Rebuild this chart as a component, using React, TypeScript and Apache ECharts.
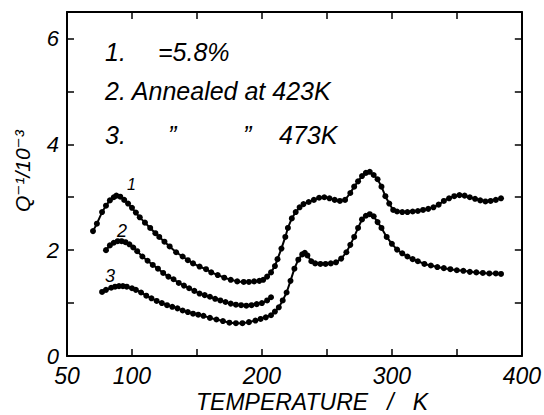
import React, { useEffect, useRef } from "react";
import * as echarts from "echarts";

// Curve 1: ε = 5.8 %
const temp1 = [70, 73, 77, 80, 83, 86, 88, 91, 94, 97, 100, 103, 106, 110, 114, 118, 121, 125, 129, 134, 139, 143, 147, 152, 157, 161, 166, 171, 176, 181, 186, 190, 194, 198, 201, 204, 207, 210, 212, 215, 218, 220, 223, 226, 229, 232, 236, 240, 244, 248, 252, 256, 260, 264, 268, 271, 274, 277, 280, 283, 286, 289, 292, 295, 298, 301, 304, 308, 312, 316, 320, 324, 328, 332, 336, 340, 344, 348, 352, 356, 360, 364, 368, 372, 376, 380, 384];
const q1 = [2.36, 2.5, 2.72, 2.84, 2.94, 3.0, 3.03, 3.01, 2.95, 2.88, 2.8, 2.71, 2.62, 2.52, 2.42, 2.32, 2.25, 2.16, 2.07, 1.96, 1.88, 1.81, 1.75, 1.69, 1.64, 1.58, 1.53, 1.48, 1.44, 1.41, 1.4, 1.4, 1.41, 1.42, 1.44, 1.5, 1.58, 1.7, 1.83, 2.03, 2.25, 2.42, 2.6, 2.72, 2.81, 2.87, 2.91, 2.95, 2.99, 3.0, 2.98, 2.95, 2.93, 2.95, 3.08, 3.2, 3.3, 3.4, 3.46, 3.48, 3.42, 3.34, 3.2, 3.02, 2.88, 2.76, 2.73, 2.72, 2.72, 2.73, 2.74, 2.76, 2.78, 2.81, 2.86, 2.93, 2.98, 3.02, 3.04, 3.03, 3.0, 2.97, 2.94, 2.92, 2.93, 2.95, 2.98];

// Curve 2: annealed at 423 K
const temp2 = [80, 83, 86, 89, 92, 95, 98, 101, 104, 108, 112, 116, 120, 124, 128, 132, 136, 140, 144, 148, 152, 156, 160, 164, 168, 172, 176, 180, 184, 188, 192, 196, 200, 204, 207];
const q2 = [2.0, 2.09, 2.14, 2.17, 2.17, 2.15, 2.11, 2.05, 1.98, 1.88, 1.8, 1.72, 1.65, 1.57, 1.5, 1.45, 1.38, 1.33, 1.28, 1.23, 1.18, 1.15, 1.12, 1.08, 1.05, 1.02, 0.99, 0.97, 0.96, 0.95, 0.96, 0.98, 1.0, 1.05, 1.11];

// Curve 3: annealed at 473 K
const temp3 = [77, 80, 84, 87, 90, 93, 96, 100, 103, 107, 111, 115, 119, 123, 127, 131, 135, 139, 143, 147, 151, 155, 160, 165, 170, 175, 180, 185, 190, 195, 199, 203, 207, 210, 213, 216, 219, 222, 225, 228, 231, 233, 235, 238, 241, 245, 249, 253, 257, 261, 265, 268, 271, 274, 277, 280, 283, 286, 289, 292, 296, 300, 304, 308, 312, 316, 320, 325, 330, 335, 340, 345, 350, 355, 360, 365, 370, 375, 380, 384];
const q3 = [1.21, 1.25, 1.29, 1.31, 1.32, 1.32, 1.31, 1.28, 1.25, 1.2, 1.14, 1.09, 1.04, 1.0, 0.96, 0.93, 0.9, 0.86, 0.83, 0.8, 0.78, 0.76, 0.72, 0.69, 0.66, 0.63, 0.62, 0.62, 0.64, 0.67, 0.7, 0.73, 0.77, 0.84, 0.92, 1.05, 1.2, 1.42, 1.65, 1.82, 1.92, 1.95, 1.9, 1.79, 1.75, 1.74, 1.74, 1.75, 1.77, 1.84, 1.96, 2.1, 2.25, 2.42, 2.58, 2.65, 2.68, 2.64, 2.53, 2.42, 2.25, 2.12, 2.01, 1.94, 1.88, 1.83, 1.79, 1.74, 1.71, 1.68, 1.66, 1.64, 1.62, 1.61, 1.59, 1.58, 1.57, 1.56, 1.56, 1.55];

const xTickLabels = [50, 100, 200, 300, 400];
const yTickLabels = [0, 2, 4, 6];

const FONT = "'Liberation Sans', 'DejaVu Sans', sans-serif";

function pairs(xs: number[], ys: number[]) {
  return xs.map((x, i) => [x, ys[i]]);
}

function txt(left: number, top: number, text: string, fontSize: number, lineHeight?: number) {
  return {
    type: "text",
    left,
    top,
    style: { text, fontSize, lineHeight: lineHeight ?? fontSize, fontStyle: "italic", fontFamily: FONT, fill: "#000" },
  };
}

export default function App() {
  const ref = useRef<HTMLDivElement>(null);
  useEffect(() => {
    if (!ref.current) return;
    const chart = echarts.init(ref.current, undefined, { renderer: "svg" });
    const lineSeries = (name: string, xs: number[], ys: number[]) => ({
      name,
      type: "line",
      data: pairs(xs, ys),
      showSymbol: true,
      symbol: "circle",
      symbolSize: 6,
      itemStyle: { color: "#000" },
      lineStyle: { color: "#000", width: 2 },
      smooth: false,
      z: 3,
    });
    const axisLineStyle = { lineStyle: { color: "#000", width: 2 } };
    const tick = { show: true, inside: true, length: 7, lineStyle: { color: "#000", width: 1.5 } };
    chart.setOption({
      animation: false,
      backgroundColor: "#fff",
      grid: { left: 67, right: 20, top: 12, bottom: 59 },
      xAxis: [
        {
          type: "value",
          min: 50,
          max: 400,
          interval: 50,
          axisLine: { show: true, onZero: false, ...axisLineStyle },
          axisTick: tick,
          splitLine: { show: false },
          axisLabel: {
            color: "#000",
            fontSize: 23,
            lineHeight: 20,
            fontStyle: "italic",
            fontFamily: FONT,
            margin: 10,
            formatter: (v: number) => (xTickLabels.includes(v) ? String(v) : ""),
          },
        },
        {
          type: "value",
          position: "top",
          min: 50,
          max: 400,
          interval: 50,
          axisLine: { show: true, onZero: false, ...axisLineStyle },
          axisTick: tick,
          splitLine: { show: false },
          axisLabel: { show: false },
        },
      ],
      yAxis: [
        {
          type: "value",
          min: 0,
          max: 6.5,
          interval: 1,
          axisLine: { show: true, onZero: false, ...axisLineStyle },
          axisTick: tick,
          splitLine: { show: false },
          axisLabel: {
            color: "#000",
            fontSize: 22,
            fontStyle: "italic",
            fontFamily: FONT,
            margin: 8,
            formatter: (v: number) => (yTickLabels.includes(v) ? String(v) : ""),
          },
        },
        {
          type: "value",
          position: "right",
          min: 0,
          max: 6.5,
          interval: 1,
          axisLine: { show: true, onZero: false, ...axisLineStyle },
          axisTick: tick,
          splitLine: { show: false },
          axisLabel: { show: false },
        },
      ],
      series: [
        lineSeries("1", temp1, q1),
        lineSeries("2", temp2, q2),
        lineSeries("3", temp3, q3),
      ],
      graphic: [
        txt(105, 38, "1.", 25, 28),
        txt(158, 38, "=5.8%", 25, 28),
        txt(105, 77, "2. Annealed at 423K", 25, 28),
        txt(105, 121, "3.", 25, 28),
        txt(168, 121, "\u201D", 25, 28),
        txt(243, 121, "\u201D", 25, 28),
        txt(279, 121, "473K", 25, 28),
        txt(127, 175, "1", 16, 18),
        txt(117, 221, "2", 18, 20),
        txt(105, 266, "3", 18, 20),
        txt(196, 390, "TEMPERATURE   /   K", 23, 23),
        {
          type: "text",
          x: 12,
          y: 212,
          rotation: Math.PI / 2,
          style: {
            text: "Q\u207B\u00B9/10\u207B\u00B3",
            fontSize: 21,
            fontStyle: "italic",
            fontFamily: FONT,
            fill: "#000",
            textAlign: "left",
            textVerticalAlign: "top",
          },
        },
      ],
    });
    return () => chart.dispose();
  }, []);
  return <div ref={ref} style={{ width: 544, height: 415, position: "absolute", left: 0, top: 0 }} />;
}
